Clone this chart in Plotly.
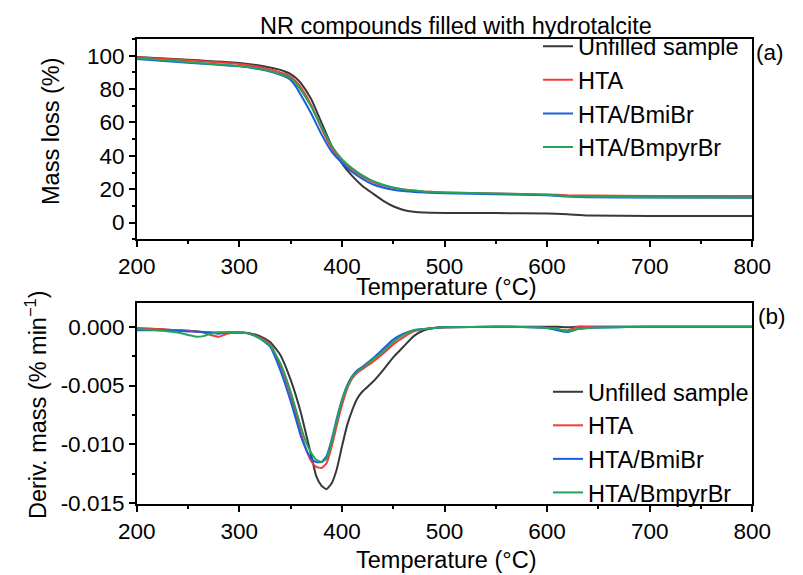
import plotly.graph_objects as go

# ---------------- data ----------------
series_names = ["Unfilled sample", "HTA", "HTA/BmiBr", "HTA/BmpyrBr"]
series_colors = ["#383838", "#f23b3b", "#1a5fdc", "#24a35c"]

temp_tga = [200, 250, 300, 325, 340, 345, 350, 355, 360, 370, 380, 390, 400, 410, 420, 430,
            440, 450, 460, 470, 480, 500, 550, 600, 620, 640, 700, 800]
mass_unfilled = [99.2, 97.6, 95.6, 93.5, 91.5, 90.4, 89.0, 86.8, 83.5, 74.0, 60.0, 46.0, 35.5,
                 28.0, 22.0, 17.5, 13.2, 9.8, 7.6, 6.5, 6.0, 5.8, 5.7, 5.5, 5.0, 4.3, 4.0, 4.0]
mass_hta = [99.0, 97.2, 95.0, 92.5, 90.0, 89.0, 87.5, 84.7, 81.0, 70.5, 56.5, 44.5, 37.0,
            31.5, 27.5, 24.5, 22.3, 20.9, 19.9, 19.2, 18.7, 18.1, 17.4, 16.9, 16.4, 16.2,
            16.0, 16.0]
mass_bmibr = [98.0, 95.8, 93.6, 91.2, 88.5, 87.3, 85.5, 81.6, 76.5, 65.5, 53.0, 42.5, 35.8,
              30.3, 26.2, 23.0, 21.0, 19.7, 18.9, 18.4, 18.0, 17.6, 17.0, 16.4, 15.6, 15.2,
              15.0, 14.9]
mass_bmpyrbr = [98.5, 96.2, 93.8, 91.5, 89.0, 88.0, 86.5, 83.5, 79.5, 69.5, 57.5, 46.0, 38.0,
                32.5, 28.3, 25.0, 22.7, 21.0, 19.9, 19.2, 18.7, 18.1, 17.4, 16.7, 15.9, 15.5,
                15.2, 15.1]

temp_dtg = [200, 220, 240, 250, 258, 265, 272, 280, 288, 300, 310, 320, 330, 340, 350,
            360, 365, 370, 375, 380, 385, 390, 395, 400, 405, 410, 415, 420, 430, 440,
            450, 460, 470, 480, 490, 500, 550, 600, 610, 620, 630, 640, 700, 750, 800]
deriv_unfilled = [-0.00015, -0.0002, -0.0003, -0.00035, -0.0004, -0.00045, -0.0005, -0.0005,
                  -0.0005, -0.0005, -0.00055, -0.0008, -0.0013, -0.0024, -0.0045, -0.0073,
                  -0.0091, -0.0109, -0.0127, -0.0135, -0.0138, -0.0133, -0.0121, -0.0102,
                  -0.0084, -0.0071, -0.0061, -0.0055, -0.0047, -0.0037, -0.0026, -0.0017,
                  -0.0008, -0.0003, -0.0001, -0.00005, 0.0, 0.0, 0.0, -0.00005, 0.0, 0.0,
                  0.0, 0.0, 0.0]
deriv_hta = [-0.0001, -0.0002, -0.0003, -0.00035, -0.0004, -0.0005, -0.0007, -0.00085,
             -0.0006, -0.0005, -0.0006, -0.0009, -0.0015, -0.0033, -0.0058, -0.0090,
             -0.0104, -0.0114, -0.0119, -0.0120, -0.0116, -0.0102, -0.0084, -0.0067,
             -0.0053, -0.0044, -0.0039, -0.0036, -0.0030, -0.0023, -0.0015, -0.0009,
             -0.0004, -0.0002, -0.0001, -0.00005, 0.0, -0.0001, -0.0002, -0.0003, 0.0,
             0.0, 0.0, 0.0, 0.0]
deriv_bmibr = [-0.0003, -0.0003, -0.00035, -0.0004, -0.0004, -0.00045, -0.0005, -0.0006,
               -0.0005, -0.0005, -0.0006, -0.0010, -0.0017, -0.0037, -0.0063, -0.0093,
               -0.0104, -0.0112, -0.0115, -0.0115, -0.0110, -0.0096, -0.0078, -0.0062,
               -0.0050, -0.0042, -0.0037, -0.0034, -0.0027, -0.0019, -0.0011, -0.0006,
               -0.0003, -0.0002, -0.0001, -0.00005, 0.0, -0.0001, -0.0003, -0.00045,
               -0.0002, -0.0001, 0.0, 0.0, 0.0]
deriv_bmpyrbr = [-0.0002, -0.0003, -0.0005, -0.0007, -0.00085, -0.0008, -0.0006, -0.0005,
                 -0.0005, -0.0005, -0.0006, -0.0010, -0.0016, -0.0031, -0.0055, -0.0085,
                 -0.0098, -0.0107, -0.0113, -0.0115, -0.0112, -0.0098, -0.0080, -0.0063,
                 -0.0051, -0.0043, -0.0038, -0.0035, -0.0028, -0.0021, -0.0013, -0.0007,
                 -0.0003, -0.0002, -0.0001, -0.00005, 0.0, -0.0001, -0.0002, -0.0004,
                 -0.0002, -0.0001, 0.0, 0.0, 0.0]

x_tick_vals = [200, 300, 400, 500, 600, 700, 800]
y2_tick_vals = [0.0, -0.005, -0.010, -0.015]
y2_tick_text = ["0.000", "-0.005", "-0.010", "-0.015"]

title_text = "NR compounds filled with hydrotalcite"
x_title = "Temperature (°C)"
y1_title = "Mass loss (%)"
y2_title = "Deriv. mass (% min<sup>−1</sup>)"

# ---------------- layout helpers ----------------
W, H = 803, 575
FONT = "Liberation Sans, Arial, sans-serif"


def fx(p):
    return p / W


def fy(p):
    return 1 - p / H


tga_series = [mass_unfilled, mass_hta, mass_bmibr, mass_bmpyrbr]
dtg_series = [deriv_unfilled, deriv_hta, deriv_bmibr, deriv_bmpyrbr]

fig = go.Figure()
for name, color, ys in zip(series_names, series_colors, tga_series):
    fig.add_trace(go.Scatter(x=temp_tga, y=ys, mode="lines", name=name,
                             line=dict(color=color, width=2, shape="spline", smoothing=0.5),
                             xaxis="x", yaxis="y", legend="legend"))
for name, color, ys in zip(series_names, series_colors, dtg_series):
    fig.add_trace(go.Scatter(x=temp_dtg, y=ys, mode="lines", name=name,
                             line=dict(color=color, width=2, shape="spline", smoothing=0.5),
                             xaxis="x2", yaxis="y2", legend="legend2"))

axis_common = dict(showline=True, mirror=True, linecolor="black", linewidth=1.5,
                   ticks="outside", ticklen=6, tickwidth=1.5, tickcolor="black",
                   showgrid=False, zeroline=False, automargin=False,
                   tickfont=dict(family=FONT, size=22.5, color="black"))

x_dom = [fx(136.7), fx(752.3)]
LEG_FONT = 23.5

fig.update_layout(
    template="none",
    width=W, height=H,
    margin=dict(l=0, r=0, t=0, b=0, pad=0, autoexpand=False),
    paper_bgcolor="white", plot_bgcolor="white",
    font=dict(family=FONT, size=23.5, color="black"),
    xaxis=dict(domain=x_dom, anchor="y", range=[200, 800], tickmode="array",
               tickvals=x_tick_vals,
               minor=dict(tickmode="linear", tick0=250, dtick=100, ticks="outside",
                          ticklen=3, tickwidth=1.5, tickcolor="black", showgrid=False),
               **axis_common),
    yaxis=dict(domain=[fy(239.3), fy(39)], anchor="x", range=[-10, 110],
               tickmode="linear", tick0=0, dtick=20,
               minor=dict(tickmode="linear", tick0=-10, dtick=20, ticks="outside",
                          ticklen=3, tickwidth=1.5, tickcolor="black", showgrid=False),
               **axis_common),
    xaxis2=dict(domain=x_dom, anchor="y2", range=[200, 800], tickmode="array",
                tickvals=x_tick_vals,
                minor=dict(tickmode="linear", tick0=250, dtick=100, ticks="outside",
                           ticklen=3, tickwidth=1.5, tickcolor="black", showgrid=False),
                **axis_common),
    yaxis2=dict(domain=[fy(504), fy(302.7)], anchor="x2", range=[-0.01506, 0.00204],
                tickmode="array", tickvals=y2_tick_vals, ticktext=y2_tick_text,
                minor=dict(tickmode="array", tickvals=[-0.0025, -0.0075, -0.0125],
                           ticks="outside", ticklen=3, tickwidth=1.5, tickcolor="black",
                           showgrid=False),
                **axis_common),
    legend=dict(x=fx(538), y=fy(24.5), xanchor="left", yanchor="top",
                bgcolor="rgba(0,0,0,0)", borderwidth=0,
                font=dict(family=FONT, size=LEG_FONT, color="black")),
    legend2=dict(x=fx(548), y=fy(370), xanchor="left", yanchor="top",
                 bgcolor="rgba(0,0,0,0)", borderwidth=0,
                 font=dict(family=FONT, size=LEG_FONT, color="black")),
    showlegend=True,
)

ann_font = dict(family=FONT, size=23.5, color="black")


def label(text, x, y, angle=0, size=23.5):
    fig.add_annotation(text=text, x=fx(x), y=fy(y), xref="paper", yref="paper",
                       xanchor="center", yanchor="middle", showarrow=False,
                       textangle=angle, font=dict(family=FONT, size=size, color="black"))


label(title_text, 456, 25.5)
label(x_title, 446, 287)
label(x_title, 446, 560)
label(y1_title, 50.5, 131.5, angle=-90)
label(y2_title, 36, 405, angle=-90)
label("(a)", 770, 53, size=22.5)
label("(b)", 772, 316.5, size=22.5)

fig.write_html("out.html")
